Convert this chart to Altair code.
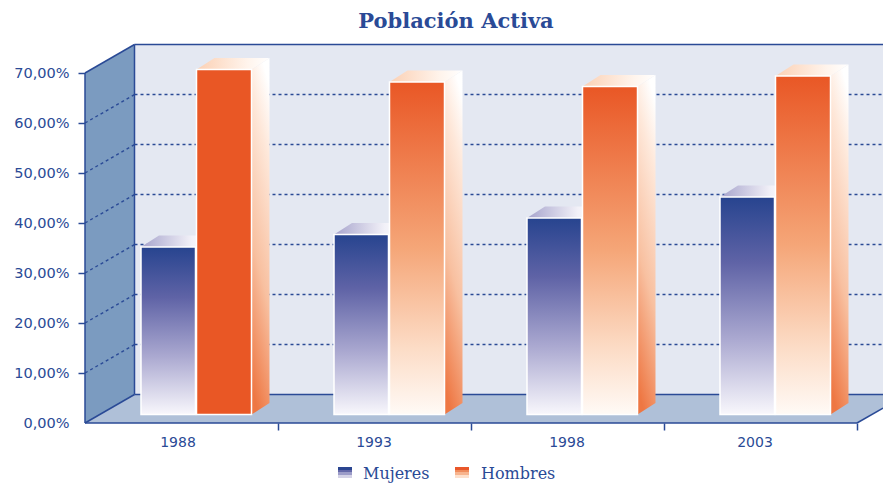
import altair as alt
import pandas as pd

years = ["1988", "1993", "1998", "2003"]
mujeres = [33.5, 36.0, 39.3, 43.5]
hombres = [69.0, 66.5, 65.6, 67.7]
y_ticks = [0, 10, 20, 30, 40, 50, 60, 70]
x_ticks = [1, 2, 3, 4]
series = ["Mujeres", "Hombres"]

BLUE = "#2a4a96"
PX_SLOT = 193.0      # px per category slot
PX_V = 5.0           # px per percentage point
TOTAL_H = 475
TOP_PAD = 32
W, H = 798, TOTAL_H - TOP_PAD
X_MAX = W / PX_SLOT
V_TOP = (423 - (8 + TOP_PAD)) / PX_V
V_BOT = V_TOP - H / PX_V
WALL_DX, WALL_DV = 49.5 / PX_SLOT, 5.7
BAR_DX, BAR_DV = 18 / PX_SLOT, 2.3
BASE = 1.7
M_L, M_R = 56 / PX_SLOT, 110.5 / PX_SLOT
H_L, H_R = 111.5 / PX_SLOT, 166.5 / PX_SLOT
LABEL_SHIFT = [-3.5, -0.5, -0.5, -5.5]

xs = alt.Scale(domain=[0, X_MAX], range=[0, W], nice=False, zero=False)
ys = alt.Scale(domain=[V_BOT, V_TOP], range=[H, 0], nice=False, zero=False)
x_axis = alt.Axis(values=x_ticks, labels=False, domain=False, grid=False,
                  offset=-(8 + TOTAL_H - 423), tickSize=7, tickWidth=1.5, tickColor=BLUE, title=None)
y_axis = alt.Axis(values=y_ticks, domain=False, grid=False, tickSize=7, tickWidth=1.5,
                  tickColor=BLUE, labelColor=BLUE, labelFont="DejaVu Sans", labelFontSize=14.5,
                  labelPadding=9, title=None,
                  tickOpacity=alt.condition("datum.value == 0", alt.value(0), alt.value(1)),
                  labelExpr="replace(format(datum.value,'.2f'),'.',',')+'%'")
X = alt.X("x:Q", scale=xs, axis=x_axis, title=None)
Y = alt.Y("y:Q", scale=ys, axis=y_axis, title=None)
X2 = alt.X2("x2:Q")
Y2 = alt.Y2("y2:Q")


def rect(x, x2, y, y2, **mk):
    d = pd.DataFrame([dict(x=x, x2=x2, y=y, y2=y2)])
    return alt.Chart(d).mark_rect(**mk).encode(x=X, x2=X2, y=Y, y2=Y2)


def area(pts, **mk):
    d = pd.DataFrame(pts, columns=["x", "y", "y2"])
    return alt.Chart(d).mark_area(**mk).encode(x=X, y=Y, y2=Y2)


def rule(x, y, x2, y2, **mk):
    d = pd.DataFrame([dict(x=x, x2=x2, y=y, y2=y2)])
    return alt.Chart(d).mark_rule(**mk).encode(x=X, x2=X2, y=Y, y2=Y2)


def grad(stops, x1=0, y1=0, x2=0, y2=1):
    return alt.Gradient(
        gradient="linear", x1=x1, y1=y1, x2=x2, y2=y2,
        stops=[alt.GradientStop(offset=o, color=c) for o, c in stops],
    )


layers = []

# back wall
layers.append(rect(WALL_DX, X_MAX, WALL_DV, 70 + WALL_DV, color="#e4e8f2"))

# floor and left wall
end_dv = (X_MAX - 4) / WALL_DX * WALL_DV
layers.append(area([(0, 0, 0), (WALL_DX, WALL_DV, 0), (4, WALL_DV, 0), (X_MAX, WALL_DV, end_dv)],
                   color="#afc0d8"))
layers.append(area([(0, 0, 70), (WALL_DX, WALL_DV, 70 + WALL_DV)], color="#7b9bc0"))

# dotted grid
for v in y_ticks[1:-1]:
    layers.append(rule(0, v, WALL_DX, v + WALL_DV, color=BLUE, strokeWidth=1.4, strokeDash=[3, 3]))
    layers.append(rule(WALL_DX, v + WALL_DV, X_MAX, v + WALL_DV, color=BLUE, strokeWidth=1.4, strokeDash=[3, 3]))

# frame
for seg in [
    (0, 0, 0, 70), (0, 0, 4, 0), (0, 0, WALL_DX, WALL_DV), (0, 70, WALL_DX, 70 + WALL_DV),
    (WALL_DX, WALL_DV, WALL_DX, 70 + WALL_DV), (WALL_DX, WALL_DV, X_MAX, WALL_DV),
    (WALL_DX, 70 + WALL_DV, X_MAX, 70 + WALL_DV), (4, 0, X_MAX, end_dv),
]:
    layers.append(rule(*seg, color=BLUE, strokeWidth=1.5))

M_FRONT = grad([(0, "#27448f"), (0.3, "#5f63a6"), (0.65, "#aaa8d0"), (1, "#f8f7fc")])
M_TOP = grad([(0, "#a6a3cc"), (0.7, "#f2f1f8"), (1, "#ffffff")], x2=1, y2=0)
H_FRONT = grad([(0, "#e95725"), (0.5, "#f5a678"), (0.8, "#fcdcc6"), (1, "#fffaf6")])
H_SOLID = grad([(0, "#e95725"), (1, "#e95725")])
H_TOP = grad([(0, "#fbd0b4"), (0.7, "#fff4ec"), (1, "#ffffff")], x2=1, y2=0)
H_SIDE = grad([(0, "#ffffff"), (0.2, "#fee8da"), (0.6, "#f8c0a0"), (1, "#ee7743")], x1=0.6, y1=0, x2=0.4, y2=1)

for i, (m, h) in enumerate(zip(mujeres, hombres)):
    # Mujeres
    mt = BASE + m
    l, r = i + M_L, i + M_R
    layers.append(area([(l, mt, mt), (l + BAR_DX, mt + BAR_DV, mt), (r, mt + BAR_DV, mt),
                        (r + BAR_DX, mt + BAR_DV, mt + BAR_DV)], color=M_TOP))
    layers.append(rect(l, r, BASE, mt, color=M_FRONT, stroke="white", strokeWidth=1.5))
    # Hombres
    ht = BASE + h
    l, r = i + H_L, i + H_R
    layers.append(area([(r, ht, BASE), (r + BAR_DX, ht + BAR_DV, BASE + BAR_DV)], color=H_SIDE))
    layers.append(area([(l, ht, ht), (l + BAR_DX, ht + BAR_DV, ht), (r, ht + BAR_DV, ht),
                        (r + BAR_DX, ht + BAR_DV, ht + BAR_DV)], color=H_TOP))
    layers.append(rect(l, r, BASE, ht, color=H_SOLID if i == 0 else H_FRONT,
                       stroke="white", strokeWidth=1.5))

# category labels
lab = pd.DataFrame({"x": [i + 0.5 + s / PX_SLOT for i, s in enumerate(LABEL_SHIFT)],
                    "y": [-4.0] * 4, "t": years})
layers.append(alt.Chart(lab).mark_text(font="DejaVu Sans", fontSize=14, color=BLUE, align="center",
                                       baseline="middle").encode(x=X, y=Y, text="t:N"))

# legend
LEG_V = (423 - 474) / PX_V
band = lambda cols: grad([p for k, c in enumerate(cols) for p in ((k / 4, c), ((k + 1) / 4, c))])
for sx, tx, cols, name in [
    (253 / PX_SLOT, 278 / PX_SLOT, ["#2a4590", "#6468a8", "#9c9cc8", "#d4d2e6"], series[0]),
    (370 / PX_SLOT, 396 / PX_SLOT, ["#e9572a", "#f08c5c", "#f7b48e", "#fde0cc"], series[1]),
]:
    layers.append(rect(sx, sx + 14 / PX_SLOT, LEG_V + 1.4, LEG_V - 0.8, color=band(cols)))
    t = pd.DataFrame({"x": [tx], "y": [LEG_V], "t": [name]})
    layers.append(alt.Chart(t).mark_text(font="DejaVu Serif", fontSize=16, color=BLUE, align="left",
                                         baseline="middle").encode(x=X, y=Y, text="t:N"))

chart = (
    alt.layer(*layers)
    .properties(
        width=W, height=H,
        padding={"left": 77, "top": TOP_PAD, "right": 0, "bottom": 0},
        autosize=alt.AutoSizeParams(type="none"),
        title=alt.TitleParams("Población Activa", font="DejaVu Serif", fontWeight="bold", fontSize=21,
                              color=BLUE, anchor="middle", dx=-28, offset=8),
    )
    .configure_view(stroke=None)
)
chart.save("out.html", embed_options={"renderer": "svg", "actions": False})
